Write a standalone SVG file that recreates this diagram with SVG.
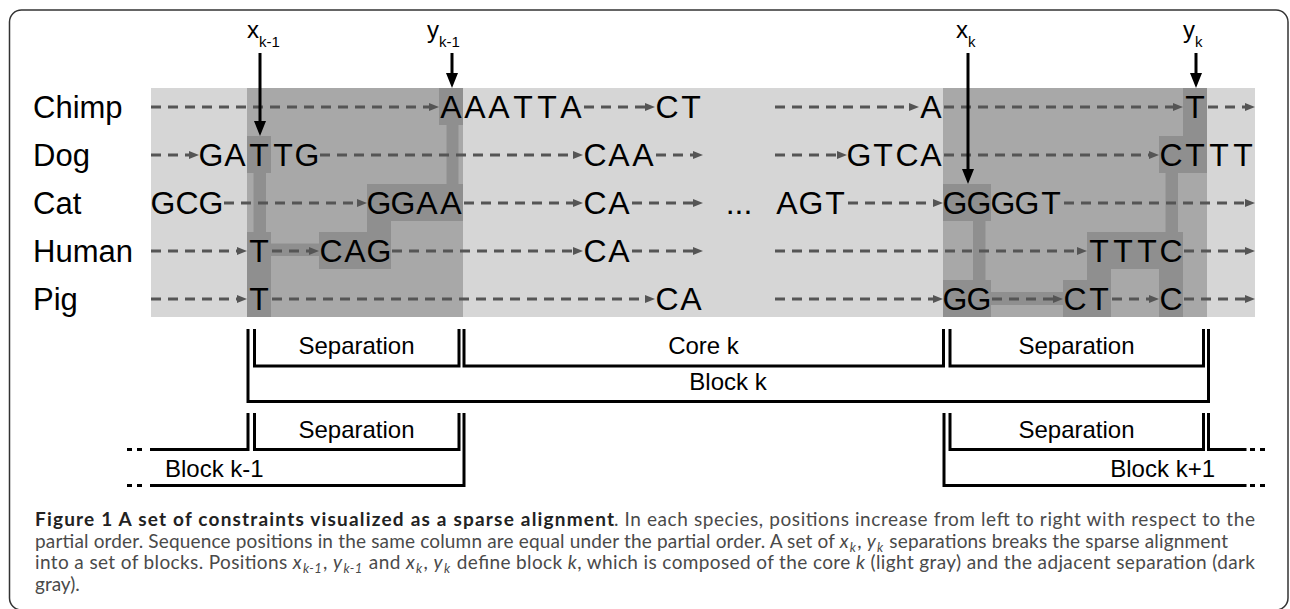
<svg xmlns="http://www.w3.org/2000/svg" width="1290" height="609" viewBox="0 0 1290 609">
<style>
.lt{fill:#d6d6d6}
.sep{fill:#a8a8a8}
.cell{fill:#8f8f8f}
.sp{font-family:"Liberation Sans",Arial,sans-serif;font-size:31px;fill:#000}
.seq{font-family:"Liberation Sans",Arial,sans-serif;font-size:32px;fill:#000;text-anchor:middle}
.dl{stroke:#555;stroke-width:3;stroke-dasharray:10 7;fill:none;marker-end:url(#ah)}
.pa{stroke:#000;stroke-width:3;fill:none;marker-end:url(#ab)}
.br{stroke:#000;stroke-width:3;fill:none}
.dots{stroke:#000;stroke-width:3;fill:none;stroke-dasharray:5 5}
.lbl{font-family:"Liberation Sans",Arial,sans-serif;font-size:24px;fill:#000}
.sub{font-size:15px}
.bl{font-family:"Liberation Sans",Arial,sans-serif;font-size:24px;fill:#000;text-anchor:middle}
.cap{font-family:Lato,"Open Sans",sans-serif;font-size:19px;fill:#4a4a4a}
.capb{font-family:Lato,"Open Sans",sans-serif;font-size:19px;font-weight:bold;fill:#222}
.it{font-style:italic}
.cs{font-size:13px;font-style:italic}
</style>
<defs>
<marker id="ah" markerUnits="userSpaceOnUse" markerWidth="10" markerHeight="8" refX="0" refY="4" orient="auto">
<path d="M0,0 L10,4 L0,8 z" fill="#555"/>
</marker>
<marker id="ab" markerUnits="userSpaceOnUse" markerWidth="15" markerHeight="12" refX="0" refY="6" orient="auto">
<path d="M0,0 L15,6 L0,12 z" fill="#000"/>
</marker>
</defs>
<rect x="9.5" y="10" width="1278.5" height="600" rx="12" fill="#fff" stroke="#333" stroke-width="1.5"/>
<g id="background">
<rect class="lt" x="151" y="88" width="1104" height="229"/>
<rect class="sep" x="247" y="88" width="216" height="229"/>
<rect class="sep" x="943" y="88" width="264" height="229"/>
</g>
<g id="separation-k-1">
<rect class="cell" x="439" y="88" width="24" height="37"/>
<rect class="cell" x="446.5" y="124" width="12" height="61"/>
<rect class="cell" x="367" y="184" width="96" height="37"/>
<rect class="cell" x="367" y="220" width="24" height="13"/>
<rect class="cell" x="319" y="232" width="72" height="37"/>
<rect class="cell" x="270" y="243.5" width="50" height="12.5"/>
<rect class="cell" x="247" y="136" width="24" height="37"/>
<rect class="cell" x="253.5" y="172" width="12.5" height="61"/>
<rect class="cell" x="247" y="232" width="24" height="85"/>
</g>
<g id="separation-k">
<rect class="cell" x="943" y="184" width="48" height="37"/>
<rect class="cell" x="973" y="220" width="12.5" height="61"/>
<rect class="cell" x="943" y="280" width="48" height="37"/>
<rect class="cell" x="990" y="292" width="74" height="13"/>
<rect class="cell" x="1063" y="280" width="48" height="37"/>
<rect class="cell" x="1087" y="232" width="96" height="37"/>
<rect class="cell" x="1087" y="268" width="24" height="13"/>
<rect class="cell" x="1159" y="232" width="24" height="85"/>
<rect class="cell" x="1165.5" y="172" width="12.5" height="61"/>
<rect class="cell" x="1159" y="136" width="48" height="37"/>
<rect class="cell" x="1183" y="88" width="24" height="49"/>
</g>
<g id="connectors">
<line class="dl" x1="151" y1="107" x2="429" y2="107"/>
<line class="dl" x1="584" y1="107" x2="645" y2="107"/>
<line class="dl" x1="775" y1="107" x2="909" y2="107"/>
<line class="dl" x1="944" y1="107" x2="1173" y2="107"/>
<line class="dl" x1="1208" y1="107" x2="1245" y2="107"/>
<line class="dl" x1="151" y1="155" x2="189" y2="155"/>
<line class="dl" x1="320" y1="155" x2="573" y2="155"/>
<line class="dl" x1="656" y1="155" x2="693" y2="155"/>
<line class="dl" x1="775" y1="155" x2="837" y2="155"/>
<line class="dl" x1="944" y1="155" x2="1149" y2="155"/>
<line class="dl" x1="224" y1="203" x2="357" y2="203"/>
<line class="dl" x1="464" y1="203" x2="573" y2="203"/>
<line class="dl" x1="632" y1="203" x2="693" y2="203"/>
<line class="dl" x1="848" y1="203" x2="933" y2="203"/>
<line class="dl" x1="1064" y1="203" x2="1245" y2="203"/>
<line class="dl" x1="151" y1="251" x2="237" y2="251"/>
<line class="dl" x1="272" y1="251" x2="309" y2="251"/>
<line class="dl" x1="392" y1="251" x2="573" y2="251"/>
<line class="dl" x1="632" y1="251" x2="693" y2="251"/>
<line class="dl" x1="775" y1="251" x2="1077" y2="251"/>
<line class="dl" x1="1184" y1="251" x2="1245" y2="251"/>
<line class="dl" x1="151" y1="299" x2="237" y2="299"/>
<line class="dl" x1="272" y1="299" x2="645" y2="299"/>
<line class="dl" x1="775" y1="299" x2="933" y2="299"/>
<line class="dl" x1="992" y1="299" x2="1053" y2="299"/>
<line class="dl" x1="1112" y1="299" x2="1149" y2="299"/>
<line class="dl" x1="1184" y1="299" x2="1245" y2="299"/>
<line class="pa" x1="260" y1="53" x2="260" y2="121"/>
<line class="pa" x1="452" y1="53" x2="452" y2="73"/>
<line class="pa" x1="968" y1="53" x2="968" y2="169"/>
<line class="pa" x1="1196" y1="53" x2="1196" y2="73"/>
</g>
<g id="species">
<text class="sp" x="33" y="118">Chimp</text>
<text class="sp" x="33" y="166">Dog</text>
<text class="sp" x="33" y="214">Cat</text>
<text class="sp" x="33" y="262">Human</text>
<text class="sp" x="33" y="310">Pig</text>
</g>
<g id="row-chimp">
<text class="seq" x="451 475 499 523 547 571" y="118">AAATTA</text>
<text class="seq" x="667 691" y="118">CT</text>
<text class="seq" x="931" y="118">A</text>
<text class="seq" x="1195" y="118">T</text>
</g>
<g id="row-dog">
<text class="seq" x="211 235 259 283 307" y="166">GATTG</text>
<text class="seq" x="595 619 643" y="166">CAA</text>
<text class="seq" x="859 883 907 931" y="166">GTCA</text>
<text class="seq" x="1171 1195 1219 1243" y="166">CTTT</text>
</g>
<g id="row-cat">
<text class="seq" x="163 187 211" y="214">GCG</text>
<text class="seq" x="379 403 427 451" y="214">GGAA</text>
<text class="seq" x="595 619" y="214">CA</text>
<text class="seq" x="739" y="214">...</text>
<text class="seq" x="787 811 835" y="214">AGT</text>
<text class="seq" x="955 979 1003 1027 1051" y="214">GGGGT</text>
</g>
<g id="row-human">
<text class="seq" x="259" y="262">T</text>
<text class="seq" x="331 355 379" y="262">CAG</text>
<text class="seq" x="595 619" y="262">CA</text>
<text class="seq" x="1099 1123 1147 1171" y="262">TTTC</text>
</g>
<g id="row-pig">
<text class="seq" x="259" y="310">T</text>
<text class="seq" x="667 691" y="310">CA</text>
<text class="seq" x="955 979" y="310">GG</text>
<text class="seq" x="1075 1099" y="310">CT</text>
<text class="seq" x="1171" y="310">C</text>
</g>
<g id="position-labels">
<text class="lbl" x="247" y="38">x<tspan class="sub" dy="8.5">k-1</tspan></text>
<text class="lbl" x="427" y="38">y<tspan class="sub" dy="8.5">k-1</tspan></text>
<text class="lbl" x="956" y="38">x<tspan class="sub" dy="8.5">k</tspan></text>
<text class="lbl" x="1183" y="38">y<tspan class="sub" dy="8.5">k</tspan></text>
</g>
<g id="brackets">
<path class="br" d="M254.5,329 V366 H459 V329"/>
<path class="br" d="M464,329 V366 H943.5 V329"/>
<path class="br" d="M950,329 V366 H1203.5 V329"/>
<path class="br" d="M248,329 V401.5 H1208.5 V329"/>
<text class="bl" x="356.5" y="354">Separation</text>
<text class="bl" x="703.5" y="354">Core k</text>
<text class="bl" x="1076.5" y="354">Separation</text>
<text class="bl" x="728" y="390">Block k</text>
<path class="br" d="M150,449.5 H248 V413"/>
<path class="br" d="M254.5,413 V449.5 H459 V413"/>
<path class="br" d="M150,485.5 H464 V413"/>
<path class="dots" d="M127,449.5 H144 M127,485.5 H144"/>
<text class="lbl" x="165" y="477">Block k-1</text>
<path class="br" d="M944,413 V485.5 H1246.5"/>
<path class="br" d="M950,413 V449.5 H1203.5 V413"/>
<path class="br" d="M1208.5,413 V449.5 H1246.5"/>
<path class="dots" d="M1250,449.5 H1268 M1250,485.5 H1268"/>
<text class="bl" x="356.5" y="438">Separation</text>
<text class="bl" x="1076.5" y="438">Separation</text>
<text class="lbl" x="1215" y="477" text-anchor="end">Block k+1</text>
</g>
<g id="caption">
<text class="capb" x="35" y="526" textLength="579" lengthAdjust="spacing">Figure 1 A set of constraints visualized as a sparse alignment</text>
<text class="cap" x="614" y="526" textLength="641" lengthAdjust="spacing">. In each species, positions increase from left to right with respect to the</text>
<text class="cap" x="35" y="547.5" textLength="1193" lengthAdjust="spacing">partial order. Sequence positions in the same column are equal under the partial order. A set of <tspan class="it">x</tspan><tspan class="cs" dx="1" dy="4">k</tspan><tspan dx="1" dy="-4">, </tspan><tspan class="it">y</tspan><tspan class="cs" dx="1" dy="4">k</tspan><tspan dx="1" dy="-4"> separations breaks the sparse alignment</tspan></text>
<text class="cap" x="35" y="569" textLength="1220" lengthAdjust="spacing">into a set of blocks. Positions <tspan class="it">x</tspan><tspan class="cs" dx="1" dy="4">k-1</tspan><tspan dx="1" dy="-4">, </tspan><tspan class="it">y</tspan><tspan class="cs" dx="1" dy="4">k-1</tspan><tspan dx="1" dy="-4"> and </tspan><tspan class="it">x</tspan><tspan class="cs" dx="1" dy="4">k</tspan><tspan dx="1" dy="-4">, </tspan><tspan class="it">y</tspan><tspan class="cs" dx="1" dy="4">k</tspan><tspan dx="1" dy="-4"> define block </tspan><tspan class="it">k</tspan>, which is composed of the core <tspan class="it">k</tspan> (light gray) and the adjacent separation (dark</text>
<text class="cap" x="35" y="590.5">gray).</text>
</g>
</svg>
